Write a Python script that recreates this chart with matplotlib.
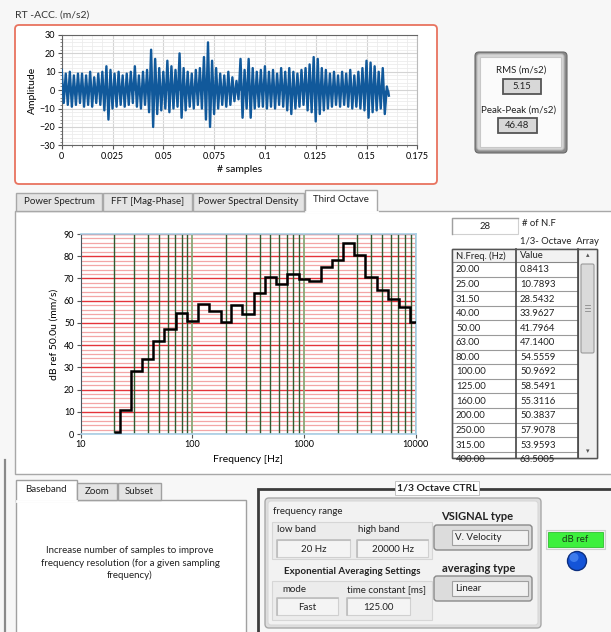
import numpy as np
import matplotlib.pyplot as plt
from matplotlib.patches import Rectangle, FancyBboxPatch, Circle
from matplotlib.ticker import MultipleLocator, FixedLocator, NullFormatter

plt.rcParams['font.family'] = ['Lato', 'DejaVu Sans']

# --- datos del registro temporal (envolvente) ---
t_env = np.linspace(0, 0.16, 81)
env_hi = [11, 9, 10, 8, 9, 9, 8, 10, 7, 9, 10, 13, 11, 9, 10, 8, 9, 10, 13, 8,
          10, 11, 22, 17, 12, 10, 16, 13, 11, 20, 12, 10, 9, 11, 12, 18, 26, 16, 12, 9,
          8, 10, 7, 5, 17, 11, 17, 12, 10, 11, 13, 10, 11, 9, 12, 10, 12, 10, 9, 11,
          12, 14, 18, 17, 12, 11, 9, 10, 8, 10, 9, 11, 8, 10, 12, 16, 15, 13, 10, 12, 2]
env_lo = [-7, -8, -9, -8, -7, -9, -8, -9, -7, -8, -11, -16, -10, -9, -8, -9, -8, -7, -9, -10,
          -8, -12, -20, -13, -11, -10, -12, -10, -9, -15, -11, -9, -10, -8, -10, -16, -20, -13, -10, -8,
          -9, -8, -6, -5, -15, -10, -15, -10, -9, -9, -10, -9, -10, -8, -9, -11, -13, -10, -9, -8,
          -11, -12, -17, -13, -11, -10, -9, -8, -9, -8, -9, -10, -9, -10, -11, -15, -12, -11, -10, -13, -3]
t_ticks = [0, 0.025, 0.05, 0.075, 0.1, 0.125, 0.15, 0.175]
t_labels = ['0', '0.025', '0.05', '0.075', '0.1', '0.125', '0.15', '0.175']
rms_val = '5.15'
pp_val = '46.48'

# --- tercio de octava ---
oct_freq = [20, 25, 31.5, 40, 50, 63, 80, 100, 125, 160, 200, 250, 315, 400, 500, 630,
            800, 1000, 1250, 1600, 2000, 2500, 3150, 4000, 5000, 6300, 8000, 10000]
oct_vals = [0.8413, 10.7893, 28.5432, 33.9627, 41.7964, 47.1400, 54.5559, 50.9692,
            58.5491, 55.3116, 50.3837, 57.9078, 53.9593, 63.5005, 70.6, 67.6, 72.0,
            69.6, 68.7, 75.0, 78.3, 85.8, 80.4, 70.6, 64.7, 60.8, 57.2, 50.3]
f_ticks = [10, 100, 1000, 10000]
f_labels = ['10', '100', '1000', '10000']
n_rows = 14  # filas visibles de la tabla

tabs_top = ['Power Spectrum', 'FFT [Mag-Phase]', 'Power Spectral Density', 'Third Octave']
tabs_bot = ['Baseband', 'Zoom', 'Subset']

W, H = 611, 632
fig = plt.figure(figsize=(W / 100, H / 100), dpi=100)
fig.patch.set_facecolor('#f7f7f7')

bg = fig.add_axes([0, 0, 1, 1])
bg.set_xlim(0, W)
bg.set_ylim(H, 0)
bg.axis('off')
bg.set_zorder(0)


def ax_px(x0, y0, x1, y1):
    a = fig.add_axes([x0 / W, 1 - y1 / H, (x1 - x0) / W, (y1 - y0) / H])
    a.set_zorder(2)
    return a


def rect(x0, y0, x1, y1, fc='white', ec='#999999', lw=1.0, z=1, r=0):
    if r:
        p = FancyBboxPatch((x0, y0), x1 - x0, y1 - y0,
                           boxstyle=f'round,pad=0,rounding_size={r}',
                           fc=fc, ec=ec, lw=lw, zorder=z)
    else:
        p = Rectangle((x0, y0), x1 - x0, y1 - y0, fc=fc, ec=ec, lw=lw, zorder=z)
    bg.add_patch(p)
    return p


def txt(x, y, s, size=7, ha='left', weight='normal', color='#222222', z=5):
    return bg.text(x, y, s, fontsize=size, ha=ha, va='center', weight=weight,
                   color=color, zorder=z)


def sunken(x0, y0, x1, y1, s, size=7):
    rect(x0, y0, x1, y1, fc='#f4f4f4', ec='#d0d0d0', lw=0.8, z=2)
    bg.plot([x0, x0, x1], [y1, y0, y0], color='#bdbdbd', lw=1.2, zorder=3)
    txt((x0 + x1) / 2, (y0 + y1) / 2 + 0.5, s, ha='center', size=size)


# ================= grafica temporal =================
txt(15, 15, 'RT -ACC. (m/s2)', size=7.5, color='#333333')
rect(15, 25, 437, 184, fc='white', ec='#e8735f', lw=1.3, r=4)

ax1 = ax_px(61.7, 35, 417.3, 145.3)
t_zig = np.ravel(np.column_stack([t_env, t_env + 0.001]))
y_zig = np.ravel(np.column_stack([env_hi, env_lo]))
ax1.fill_between(t_zig, y_zig, 0, color='#11599b', lw=0, zorder=3)
ax1.plot(t_zig, y_zig, color='#11599b', lw=1.7, zorder=3)
ax1.set_xlim(0, 0.175)
ax1.set_ylim(-30, 30)
ax1.set_xticks(t_ticks, t_labels)
ax1.set_yticks(range(-30, 31, 10))
ax1.xaxis.set_minor_locator(MultipleLocator(0.005))
ax1.yaxis.set_minor_locator(MultipleLocator(2))
ax1.grid(which='major', color='#d4d4d4', lw=0.8)
ax1.grid(which='minor', color='#ececec', lw=0.6)
ax1.set_axisbelow(True)
ax1.tick_params(which='major', labelsize=6.5, length=3, color='#555555', pad=1.5)
ax1.tick_params(which='minor', length=1.5, color='#777777')
for s in ['left', 'bottom', 'top']:
    ax1.spines[s].set_color('#666666')
ax1.spines['right'].set_color('#bbbbbb')
ax1.set_xlabel('# samples', fontsize=7.5, labelpad=3)
ax1.set_ylabel('Amplitude', fontsize=7.5, labelpad=2)

# --- indicadores RMS / pico-pico ---
rect(475, 52, 567, 153, fc='#8a8a8a', ec='#6a6a6a', lw=0.8, r=4)
rect(477, 54, 564, 150, fc='#d6d6d6', ec='#bcbcbc', lw=0.8, r=3)
rect(480, 57, 561, 147, fc='#fbfbfb', ec='#c8c8c8', lw=0.8)
txt(521, 70, 'RMS (m/s2)', ha='center')
rect(503, 79, 541, 94, fc='#d8d8d8', ec='#555555', lw=1.3)
txt(522, 86.5, rms_val, ha='center', size=6.8)
txt(519, 110, 'Peak-Peak (m/s2)', ha='center')
rect(498, 118, 537, 133, fc='#d8d8d8', ec='#555555', lw=1.3)
txt(517.5, 125.5, pp_val, ha='center', size=6.8)

# ================= pestanas superiores =================
rect(15, 211, 640, 474, fc='white', ec='#a8a8a8', lw=1.0)
tab_x = [16, 103, 193, 305, 377]
for i, name in enumerate(tabs_top):
    x0, x1 = tab_x[i], tab_x[i + 1] - 1
    if i == 3:
        rect(x0, 190, x1 + 1, 212, fc='white', ec='#a8a8a8', lw=1.0, z=2)
        bg.plot([x0 + 0.5, x1 + 0.5], [211.5, 211.5], color='white', lw=2, zorder=3)
        txt((x0 + x1) / 2, 199.5, name, ha='center', size=7)
    else:
        rect(x0, 193, x1, 211, fc='#e4e4e4', ec='#a8a8a8', lw=1.0, z=2)
        txt((x0 + x1) / 2, 202, name, ha='center', size=7)

# ================= grafica de tercio de octava =================
ax2 = ax_px(80.7, 234, 415.7, 434)
oct_edges = np.concatenate([[oct_freq[0]],
                            np.sqrt(np.array(oct_freq[:-1]) * np.array(oct_freq[1:])),
                            [oct_freq[-1]]])
ax2.stairs(oct_vals, oct_edges, baseline=None, color='black', lw=1.8, zorder=4)
ax2.set_xscale('log')
ax2.set_xlim(10, 10000)
ax2.set_ylim(0, 90)
ax2.set_xticks(f_ticks, f_labels)
minor_f = [m * d for d in [10, 100, 1000] for m in range(2, 10)]
ax2.xaxis.set_minor_locator(FixedLocator(minor_f))
ax2.xaxis.set_minor_formatter(NullFormatter())
ax2.set_yticks(range(0, 91, 10))
ax2.yaxis.set_minor_locator(MultipleLocator(2))
ax2.grid(which='minor', axis='y', color='#f3a6a6', lw=0.9)
ax2.grid(which='major', axis='y', color='#e4343a', lw=1.0)
ax2.grid(which='minor', axis='x', color='#2f5a2f', lw=1.0)
ax2.grid(which='major', axis='x', color='#88a878', lw=1.3)
ax2.set_axisbelow(True)
ax2.xaxis.set_zorder(0.6)  # lineas verticales por encima de las horizontales
ax2.tick_params(which='major', labelsize=6.5, length=3, color='#555555', pad=1.5)
ax2.tick_params(which='minor', length=0)
ax2.spines['left'].set_color('#4a5860')
for s in ['bottom', 'top', 'right']:
    ax2.spines[s].set_color('#a8cfe6')
    ax2.spines[s].set_linewidth(1.2)
ax2.set_xlabel('Frequency [Hz]', fontsize=7.5, labelpad=4)
ax2.set_ylabel('dB ref 50.0u (mm/s)', fontsize=7.5, labelpad=4)

# --- tabla 1/3 octava ---
rect(452, 218, 518, 234, fc='white', ec='#d0d0d0', lw=0.8)
bg.plot([452, 452, 518], [234, 218, 218], color='#a0a0a0', lw=1.0, zorder=3)
txt(485, 226.5, str(len(oct_freq)), ha='center', size=6.8)
txt(522, 224, '# of N.F', size=6.8)
txt(520, 241, '1/3- Octave  Array', size=6.8)

tb_hdr, tb_top, tb_bot = 249, 262, 458
tb_x0, tb_xm, tb_xs, tb_x1 = 452, 516, 578, 597
row_h = 14.6
rect(tb_x0, tb_hdr, tb_x1, tb_bot, fc='white', ec='#666666', lw=1.0, z=2)
rect(tb_x0, tb_hdr, tb_xs, tb_top, fc='#f2f2f2', ec='#888888', lw=0.8, z=3)
txt(tb_x0 + 4, (tb_hdr + tb_top) / 2 + 0.5, 'N.Freq. (Hz)', size=6.8)
txt(tb_xm + 4, (tb_hdr + tb_top) / 2 + 0.5, 'Value', size=6.8)
clip = Rectangle((tb_x0, tb_top), tb_xs - tb_x0, tb_bot - tb_top, transform=bg.transData)
for i in range(n_rows):
    y0 = tb_top + i * row_h
    ln = bg.plot([tb_x0, tb_xs], [y0 + row_h, y0 + row_h], color='#9a9a9a', lw=0.8, zorder=3)[0]
    ln.set_clip_path(clip)
    for x, s in [(tb_x0 + 4, f'{oct_freq[i]:.2f}'), (tb_xm + 4, f'{oct_vals[i]:.4f}')]:
        tt = txt(x, y0 + row_h / 2 + 0.5, s, size=6.8)
        tt.set_clip_path(clip)
bg.plot([tb_xm, tb_xm], [tb_hdr, tb_bot], color='#444444', lw=1.2, zorder=4)
bg.plot([tb_xs, tb_xs], [tb_hdr, tb_bot], color='#444444', lw=1.2, zorder=4)
rect(tb_x0, tb_hdr, tb_x1, tb_bot, fc='none', ec='#555555', lw=1.0, z=4)
# barra de desplazamiento
rect(tb_xs, tb_hdr, tb_x1, tb_bot, fc='#f0f0f0', ec='#888888', lw=0.8, z=3)
rect(581, 264, 594, 353, fc='#dadada', ec='#9a9a9a', lw=0.8, z=4, r=1.5)
for yy in [305, 308, 311]:
    bg.plot([585, 590], [yy, yy], color='#8a8a8a', lw=0.6, zorder=5)
txt(587.5, 255, '\u25b4', ha='center', size=5, color='#555555')
txt(587.5, 451, '\u25be', ha='center', size=5, color='#555555')

# ================= seccion inferior izquierda =================
bg.plot([4.5, 4.5], [460, H], color='#8a8a8a', lw=1.6, zorder=2)
rect(16, 500, 246, 645, fc='white', ec='#a0a0a0', lw=1.0)
tabb_x = [16, 77, 118, 162]
for i, name in enumerate(tabs_bot):
    x0, x1 = tabb_x[i], tabb_x[i + 1] - 1
    if i == 0:
        rect(x0, 480, x1 + 1, 501, fc='white', ec='#a0a0a0', lw=1.0, z=2)
        bg.plot([x0 + 0.7, x1 + 0.3], [500.5, 500.5], color='white', lw=2, zorder=3)
        txt((x0 + x1) / 2, 489, name, ha='center', size=7)
    else:
        rect(x0, 483, x1, 500, fc='#e4e4e4', ec='#a0a0a0', lw=1.0, z=2)
        txt((x0 + x1) / 2, 492, name, ha='center', size=7)
bg.text(130, 563, 'Increase number of samples to improve\nfrequency resolution (for a given sampling\nfrequency)',
        fontsize=7, ha='center', va='center', linespacing=1.45, color='#222222', zorder=5)

# ================= control 1/3 octava =================
rect(258, 489, 640, 645, fc='#f7f7f7', ec='#3c3c3c', lw=2.0)
rect(395, 481, 479, 495, fc='white', ec='#bbbbbb', lw=0.6, z=3)
txt(437, 488, '1/3 Octave CTRL', ha='center', size=7.5, weight='bold')
rect(265, 498, 541, 628, fc='#dedede', ec='#a8a8a8', lw=1.0, r=4)
rect(268, 501, 538, 625, fc='#f2f2f2', ec='#d8d8d8', lw=0.8, r=3)

txt(273, 512, 'frequency range', size=7)
rect(272, 522, 432, 559, fc='#ececec', ec='#d6d6d6', lw=0.8)
txt(277, 529.5, 'low band', size=7)
txt(358, 529.5, 'high band', size=7)
sunken(277, 540, 350, 557, '20 Hz')
sunken(357, 540, 428, 557, '20000 Hz')

txt(352, 571, 'Exponential Averaging Settings', ha='center', size=7, weight='bold')
rect(272, 581, 432, 620, fc='#ececec', ec='#d6d6d6', lw=0.8)
txt(282, 590, 'mode', size=7)
txt(347, 590, 'time constant [ms]', size=7)
sunken(277, 598, 338, 615, 'Fast')
sunken(347, 598, 410, 615, '125.00')

txt(477, 517, 'VSIGNAL type', ha='center', size=8, weight='bold')
rect(434, 525, 532, 550, fc='#dcdcdc', ec='#8a8a8a', lw=1.0, r=3)
rect(452, 530, 528, 545, fc='#f2f2f2', ec='#a0a0a0', lw=0.8, z=2)
txt(455, 537.5, 'V. Velocity', size=7)
txt(479, 568, 'averaging type', ha='center', size=8, weight='bold')
rect(434, 576, 532, 601, fc='#dcdcdc', ec='#8a8a8a', lw=1.0, r=3)
rect(452, 581, 528, 596, fc='#f2f2f2', ec='#a0a0a0', lw=0.8, z=2)
txt(455, 588.5, 'Linear', size=7)

rect(546, 530, 605, 549, fc='#f0f0f0', ec='#d0d0d0', lw=0.8)
rect(548, 532, 603, 547, fc='#3ef03e', ec='#30c030', lw=0.6, z=2)
txt(575.5, 539.5, 'dB ref', ha='center', size=7, color='#1a3a1a')
bg.add_patch(Circle((577, 561), 9.5, fc='#1454d8', ec='#0c2f80', lw=1.0, zorder=3))
bg.add_patch(Circle((574, 557.5), 4.5, fc='#5f9cff', ec='none', alpha=0.55, zorder=4))

fig.savefig('out.png', dpi=100, facecolor=fig.get_facecolor())
